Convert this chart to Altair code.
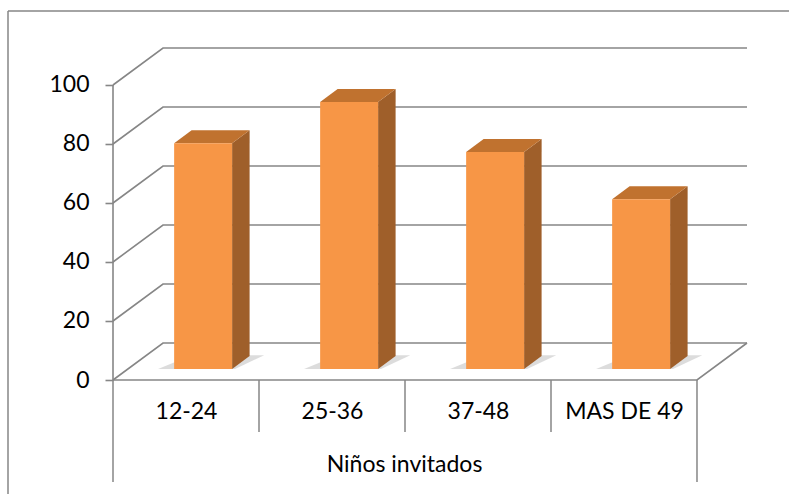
import json
import altair as alt
import pandas as pd

# ---- data ----
categories = ["12-24", "25-36", "37-48", "MAS DE 49"]
values = [76.5, 90.5, 73.5, 57.5]
y_ticks = [0, 20, 40, 60, 80, 100]
axis_title = "Niños invitados"

# ---- oblique 3-D geometry (in scale units) ----
N = len(categories)
DEPTH_X = 0.3425      # depth of the floor along x (category units)
DEPTH_Y = 12.54       # depth of the floor along y (value units)
BAR_D0, BAR_D1 = 0.30, 0.65   # bar front / back depth fraction
BAR_C0, BAR_C1 = 0.316, 0.713  # bar left / right within a category
TOP = max(y_ticks)

GRID = "#868686"
FRONT = "#F79646"
SIDE = "#9F5F2A"
LID = "#C0722F"
FONT = "Lato"
FS = 23

xs = alt.Scale(domain=[0, N + DEPTH_X], nice=False, zero=False)
ys = alt.Scale(domain=[0, TOP + DEPTH_Y], nice=False, zero=False)

label_expr = json.dumps(categories) + "[floor(datum.value)]"
x_axis = alt.Axis(
    values=[i + 0.5 for i in range(N)], labelExpr=label_expr,
    ticks=False, domain=False, grid=False, labelPadding=20,
    labelFontSize=FS, labelFont=FONT, labelColor="black",
    title=axis_title, titleFont=FONT, titleFontSize=FS,
    titleFontWeight="normal", titleColor="black", titleX=291,
    titlePadding=30,
)
y_axis = alt.Axis(
    values=y_ticks, domain=False, grid=False, tickSize=8,
    tickColor=GRID, tickWidth=1.6, labelPadding=16,
    labelFontSize=FS, labelFont=FONT, labelColor="black", title=None,
)

# gridlines on left and back walls + floor outline + front axis line
rows = []
for t in y_ticks:
    pts = [(0, t), (DEPTH_X, t + DEPTH_Y), (N + DEPTH_X, t + DEPTH_Y)]
    for k, (x, y) in enumerate(pts):
        rows.append({"id": f"g{t}", "k": k, "x": x, "y": y})
for k, (x, y) in enumerate([(0, 0), (N, 0), (N + DEPTH_X, DEPTH_Y)]):
    rows.append({"id": "floor", "k": k, "x": x, "y": y})
for k, (x, y) in enumerate([(0, 0), (0, TOP)]):
    rows.append({"id": "axis", "k": k, "x": x, "y": y})
lines_df = pd.DataFrame(rows)

front_df = pd.DataFrame({"cat": categories, "v": values, "i": range(N)})
front_df["x0"] = front_df["i"] + BAR_C0 + BAR_D0 * DEPTH_X
front_df["x1"] = front_df["i"] + BAR_C1 + BAR_D0 * DEPTH_X
front_df["y0"] = BAR_D0 * DEPTH_Y
front_df["y1"] = front_df["v"] + BAR_D0 * DEPTH_Y

side_rows, top_rows, shadow_rows = [], [], []
for i, (c, v) in enumerate(zip(categories, values)):
    for d in (BAR_D0, BAR_D1):
        side_rows.append({"cat": c, "x": i + BAR_C1 + d * DEPTH_X,
                          "ylo": d * DEPTH_Y, "yhi": v + d * DEPTH_Y})
        top_rows.append({"cat": c, "y": v + d * DEPTH_Y,
                         "xl": i + BAR_C0 + d * DEPTH_X,
                         "xr": i + BAR_C1 + d * DEPTH_X})
    # soft floor shadow around the bar foot
    shadow_rows.append({"cat": c, "y": BAR_D0 * DEPTH_Y,
                        "xl": i + BAR_C0 + BAR_D0 * DEPTH_X - 0.11,
                        "xr": i + BAR_C1 + BAR_D0 * DEPTH_X + 0.02})
    shadow_rows.append({"cat": c, "y": (BAR_D1 + 0.02) * DEPTH_Y,
                        "xl": i + BAR_C0 + BAR_D1 * DEPTH_X,
                        "xr": i + BAR_C1 + BAR_D1 * DEPTH_X + 0.1})
side_df = pd.DataFrame(side_rows)
top_df = pd.DataFrame(top_rows)
shadow_df = pd.DataFrame(shadow_rows)

div_df = pd.DataFrame({"x": list(range(N + 1))})
div_df["outer"] = (div_df["x"] == 0) | (div_df["x"] == N)

W, H = 634, 332

shadow = alt.Chart(shadow_df).mark_area(
    orient="horizontal", color="#9a9a9a", opacity=0.35
).encode(
    y=alt.Y("y:Q", scale=ys, axis=y_axis),
    x=alt.X("xl:Q", scale=xs, axis=x_axis),
    x2="xr:Q",
    detail="cat:N",
)

front = alt.Chart(front_df).mark_rect(color=FRONT).encode(
    x=alt.X("x0:Q", scale=xs, axis=x_axis),
    x2="x1:Q",
    y=alt.Y("y0:Q", scale=ys, axis=y_axis),
    y2="y1:Q",
)

grid = alt.Chart(lines_df).mark_line(color=GRID, strokeWidth=1.6).encode(
    x=alt.X("x:Q", scale=xs, axis=x_axis),
    y=alt.Y("y:Q", scale=ys, axis=y_axis),
    detail="id:N",
    order="k:Q",
)

side = alt.Chart(side_df).mark_area(orient="vertical", color=SIDE).encode(
    x=alt.X("x:Q", scale=xs, axis=x_axis),
    y=alt.Y("ylo:Q", scale=ys, axis=y_axis),
    y2="yhi:Q",
    detail="cat:N",
)

lid = alt.Chart(top_df).mark_area(orient="horizontal", color=LID).encode(
    y=alt.Y("y:Q", scale=ys, axis=y_axis),
    x=alt.X("xl:Q", scale=xs, axis=x_axis),
    x2="xr:Q",
    detail="cat:N",
)

inner = alt.Chart(div_df[~div_df["outer"]]).mark_rule(color=GRID, strokeWidth=1.5).encode(
    x=alt.X("x:Q", scale=xs, axis=x_axis),
    y=alt.value(H), y2=alt.value(H + 52),
)
outer = alt.Chart(div_df[div_df["outer"]]).mark_rule(color=GRID, strokeWidth=1.5).encode(
    x=alt.X("x:Q", scale=xs, axis=x_axis),
    y=alt.value(H), y2=alt.value(H + 102),
)

one = pd.DataFrame({"a": [0]})
border_left = alt.Chart(one).mark_rule(color=GRID, strokeWidth=1.5).encode(
    x=alt.value(-105), y=alt.value(-37), y2=alt.value(H + 200),
)
border_top = alt.Chart(one).mark_rule(color=GRID, strokeWidth=1.5).encode(
    x=alt.value(-105), x2=alt.value(W + 200), y=alt.value(-37),
)

chart = alt.layer(grid, shadow, side, lid, front, inner, outer, border_left, border_top).properties(
    width=W, height=H,
    autosize=alt.AutoSizeParams(type="none"),
    padding={"left": 113, "top": 48, "right": 42, "bottom": 114},
    background="white",
).configure_view(strokeWidth=0)

chart.save("out.html", embed_options={"renderer": "svg", "actions": False})
